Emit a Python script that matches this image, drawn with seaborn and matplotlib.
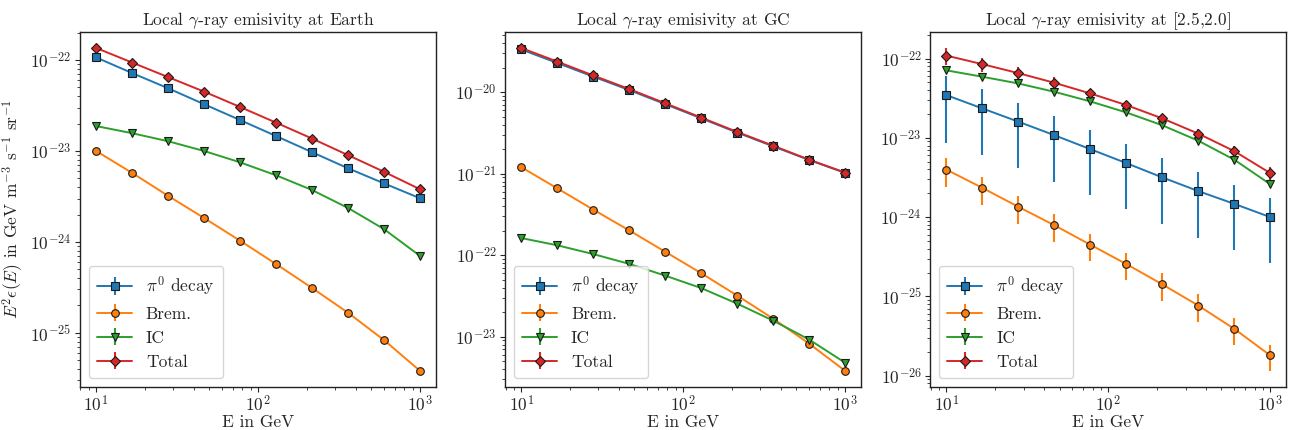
import numpy as np
import pandas as pd
import matplotlib
matplotlib.use("Agg")
import matplotlib.pyplot as plt
import matplotlib.ticker as mticker
import seaborn as sns

energy = [10.0, 16.68, 27.83, 46.42, 77.43, 129.2, 215.4, 359.4, 599.5, 1000.0]

titles = [r"Local $\gamma$-ray emisivity at Earth",
          r"Local $\gamma$-ray emisivity at GC",
          r"Local $\gamma$-ray emisivity at [2.5,2.0]"]
labels = [r"$\pi^0$ decay", "Brem.", "IC", "Total"]

# Panel 1: Earth
earth_pi0 = [1.07e-22, 7.2e-23, 4.9e-23, 3.27e-23, 2.19e-23, 1.46e-23, 9.7e-24, 6.45e-24, 4.4e-24, 3.02e-24]
earth_brem = [1.0e-23, 5.74e-24, 3.21e-24, 1.83e-24, 1.03e-24, 5.7e-25, 3.11e-25, 1.66e-25, 8.3e-26, 3.81e-26]
earth_ic = [1.88e-23, 1.57e-23, 1.28e-23, 1.0e-23, 7.5e-24, 5.4e-24, 3.72e-24, 2.36e-24, 1.38e-24, 7.0e-25]
earth_total = [1.36e-22, 9.4e-23, 6.5e-23, 4.5e-23, 3.05e-23, 2.05e-23, 1.37e-23, 9.0e-24, 5.9e-24, 3.79e-24]

# Panel 2: GC
gc_pi0 = [3.34e-20, 2.28e-20, 1.55e-20, 1.06e-20, 7.12e-21, 4.77e-21, 3.19e-21, 2.16e-21, 1.47e-21, 1.02e-21]
gc_brem = [1.2e-21, 6.6e-22, 3.62e-22, 2.01e-22, 1.1e-22, 6.0e-23, 3.19e-23, 1.66e-23, 8.2e-24, 3.8e-24]
gc_ic = [1.62e-22, 1.32e-22, 1.03e-22, 7.8e-23, 5.6e-23, 3.94e-23, 2.54e-23, 1.57e-23, 9.2e-24, 4.78e-24]
gc_total = [3.48e-20, 2.37e-20, 1.6e-20, 1.09e-20, 7.3e-21, 4.87e-21, 3.25e-21, 2.2e-21, 1.48e-21, 1.03e-21]

# Panel 3: [2.5,2.0]
p3_pi0 = [3.46e-23, 2.35e-23, 1.6e-23, 1.08e-23, 7.2e-24, 4.8e-24, 3.17e-24, 2.13e-24, 1.47e-24, 1.0e-24]
p3_brem = [3.98e-24, 2.34e-24, 1.35e-24, 7.9e-25, 4.49e-25, 2.56e-25, 1.42e-25, 7.67e-26, 3.9e-26, 1.8e-26]
p3_ic = [7.1e-23, 5.9e-23, 4.85e-23, 3.81e-23, 2.88e-23, 2.09e-23, 1.44e-23, 9.2e-24, 5.3e-24, 2.6e-24]
p3_total = [1.09e-22, 8.5e-23, 6.55e-23, 4.95e-23, 3.63e-23, 2.59e-23, 1.76e-23, 1.13e-23, 6.8e-24, 3.59e-24]

p3_pi0_err = [2.6e-23, 1.74e-23, 1.18e-23, 8.0e-24, 5.3e-24, 3.55e-24, 2.35e-24, 1.58e-24, 1.09e-24, 7.4e-25]
p3_brem_err = [1.55e-24, 9.0e-25, 5.2e-25, 3.0e-25, 1.7e-25, 9.7e-26, 5.4e-26, 2.9e-26, 1.45e-26, 6.5e-27]
p3_ic_err = [0.0] * 10
p3_total_err = [2.7e-23, 1.8e-23, 1.22e-23, 8.2e-24, 5.4e-24, 3.6e-24, 2.4e-24, 1.6e-24, 1.1e-24, 7.5e-25]

zeros = [0.0] * 10

panels = [
    ([earth_pi0, earth_brem, earth_ic, earth_total], [zeros, zeros, zeros, zeros]),
    ([gc_pi0, gc_brem, gc_ic, gc_total], [zeros, zeros, zeros, zeros]),
    ([p3_pi0, p3_brem, p3_ic, p3_total], [p3_pi0_err, p3_brem_err, p3_ic_err, p3_total_err]),
]

sns.set_theme(style="ticks")
plt.rcParams.update({
    "font.family": "serif",
    "font.serif": ["cmr10"],
    "mathtext.fontset": "cm",
    "axes.formatter.use_mathtext": True,
    "axes.unicode_minus": False,
    "axes.edgecolor": "#222222",
    "axes.linewidth": 1.0,
    "xtick.direction": "out",
    "ytick.direction": "out",
    "xtick.major.size": 3.5,
    "ytick.major.size": 3.5,
    "xtick.minor.size": 2.0,
    "ytick.minor.size": 2.0,
    "xtick.major.width": 0.8,
    "ytick.major.width": 0.8,
    "xtick.minor.width": 0.6,
    "ytick.minor.width": 0.6,
    "xtick.major.pad": 1.5,
    "ytick.major.pad": 2.5,
    "axes.titlepad": 5.0,
})

colors = sns.color_palette("tab10")[:4]
markers = ["s", "o", "v", "D"]


def visible_log_ticks(lo, hi):
    major, minor = [], []
    for k in range(int(np.floor(np.log10(lo))), int(np.ceil(np.log10(hi))) + 1):
        if lo <= 10.0 ** k <= hi:
            major.append(10.0 ** k)
        for m in range(2, 10):
            v = m * 10.0 ** k
            if lo <= v <= hi:
                minor.append(v)
    return major, minor


fig, axes = plt.subplots(1, 3, figsize=(12.89, 4.3), dpi=100)
fig.subplots_adjust(left=0.062, right=0.998, bottom=0.1, top=0.926, wspace=0.193)

for ax, title, (vals, errs) in zip(axes, titles, panels):
    handles = []
    for lab, v, e, c, m in zip(labels, vals, errs, colors, markers):
        df = pd.DataFrame({"E": energy, "y": v})
        sns.lineplot(data=df, x="E", y="y", ax=ax, color=c, marker=m,
                     markersize=5.5, markeredgecolor="k", markeredgewidth=0.8,
                     linewidth=1.4, legend=False, zorder=3)
        line = ax.get_lines()[-1]
        eb = ax.errorbar(energy, v, yerr=e, fmt="none", ecolor=c, elinewidth=1.5, zorder=2)
        handles.append((eb, line))
    ax.set_xscale("log")
    ax.set_yscale("log")
    xlim = ax.get_xlim()
    ylim = ax.get_ylim()
    xmaj, xmin = visible_log_ticks(*xlim)
    ymaj, ymin = visible_log_ticks(*ylim)
    ax.set_xticks(xmaj)
    ax.set_xticks(xmin, minor=True)
    ax.set_yticks(ymaj)
    ax.set_yticks(ymin, minor=True)
    ax.xaxis.set_major_formatter(mticker.LogFormatterSciNotation())
    ax.yaxis.set_major_formatter(mticker.LogFormatterSciNotation())
    ax.xaxis.set_minor_formatter(mticker.NullFormatter())
    ax.yaxis.set_minor_formatter(mticker.NullFormatter())
    ax.set_xlim(xlim)
    ax.set_ylim(ylim)
    ax.set_title(title, fontsize=12.5)
    ax.set_xlabel("E in GeV", fontsize=12.5, labelpad=0.5)
    ax.set_ylabel("")
    ax.tick_params(labelsize=12.5)
    ax.legend(handles, labels, loc="lower left", fontsize=12.5, frameon=True,
              borderpad=0.5, handlelength=2.0, framealpha=0.8, edgecolor="0.8",
              fancybox=True)

axes[0].set_ylabel(r"$E^2\epsilon(E)$ in GeV m$^{-3}$ s$^{-1}$ sr$^{-1}$", fontsize=12.5, labelpad=4)

fig.savefig("out.png", dpi=100)
